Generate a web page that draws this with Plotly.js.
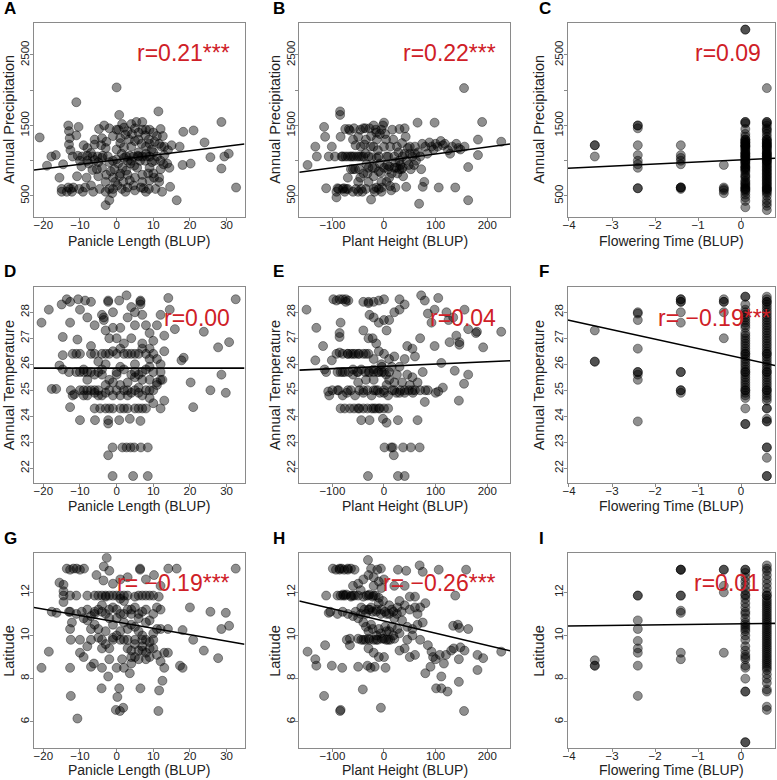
<!DOCTYPE html>
<html><head><meta charset="utf-8">
<script src="https://cdn.plot.ly/plotly-3.0.1.min.js"></script>
<style>html,body{margin:0;padding:0;background:#fff}#chart{width:777px;height:780px}</style>
</head><body><div id="chart"></div>
<script>
// ---------------- DATA ----------------
const panelLetters = ['A','B','C','D','E','F','G','H','I'];
const xTitles = ['Panicle Length (BLUP)', 'Plant Height (BLUP)', 'Flowering Time (BLUP)'];
const yTitles = ['Annual Precipitation', 'Annual Temperature', 'Latitude'];
const rLabels = ['r=0.21***','r=0.22***','r=0.09','r=0.00','r=0.04','r= \u22120.19***','r= \u22120.19***','r= \u22120.26***','r=0.01'];
const fitIntercept = [1013, 998, 1012, 25.85, 25.92, 26.24, 10.63, 10.67, 10.54];
const fitSlope = [6.42, 0.985, 29.5, 0, 0.00088, -0.363, -0.0296, -0.00566, 0.025];

const xTickVals = [[-20,-10,0,10,20,30],[-100,0,100,200],[-4,-3,-2,-1,0]];
const yTickVals = [[500,1000,1500,2000,2500],[22,23,24,25,26,27,28],[6,8,10,12]];
const yTickText = [['500','','1500','','2500'],['22','23','24','25','26','27','28'],['6','8','10','12']];

// Panel A: panicle length vs annual precipitation
const ptsA = [[-21,1330],[-19,930],[-17.8,1060],[-16.6,1080],[-15.6,760],[-14.6,950],[-15,600],[-15,560],[-13.2,620],[-12.2,560],[-11.8,620],[-10.2,600],[-9.2,560],[-8.6,620],[-11,1830],[-13.2,1500],[-13,1420],[-12.8,1320],[-13,1230],[-12.6,1150],[-10.4,1480],[-12,1060],[-10.6,1070],[-9.4,1060],[-8,1070],[-6.6,1060],[-5.2,1060],[-3.8,1070],[-2.4,1060],[-9.6,920],[-8.2,760],[-6,1230],[-4.2,1220],[-4.8,1450],[-3.4,1500],[-2,1460],[-4,1320],[-2.8,1270],[-6.6,870],[-5.4,880],[-4,900],[-2.8,800],[-1.6,850],[-4.6,600],[-3,560],[-2,600],[-1.2,540],[-6.4,560],[-7.6,960],[-10.8,780],[-3,370],[-2,440],
[0,2040],[0.7,1650],[0.5,1440],[1.5,1520],[2.4,1370],[3.4,1300],[1,1250],[0,1160],[1.4,1100],[2.6,1060],[3.6,1070],[4.6,1060],[5.8,1070],[7,1060],[8.2,1060],[0.4,960],[1.6,900],[2.6,860],[0.8,780],[1.8,700],[0.2,650],[1.4,600],[2.4,560],[-0.6,880],[-0.4,700],[3.8,960],[4.8,930],[5.6,900],[6.4,1000],[4,1200],[5,1280],[6,1400],[5.4,1550],[7,1550],[8,1440],[9,1440],[7.8,1360],[8.8,1300],[6.8,1240],[8,1200],[9.6,1160],[10.4,1270],[11.6,1240],[12.2,1200],[11,1060],[12,1000],[12.8,950],[10.4,1000],[9,900],[7.8,1000],[7,800],[8.6,820],[10.2,760],[11.6,760],[6.6,620],[7.4,610],[8.8,600],[10.6,600],[11.6,700],[4.6,650],[3.6,720],[11.4,1700],[12,1450],[12.6,1350],[14,1150],[15,1220],[13.8,960],[14.4,900],[14.6,630],[17.2,1200],[18.2,1410],[18,940],[20.2,960],[16.4,440],[21,1430],[24,1260],[25.6,1050],[28.6,1550],[28.6,890],[29.4,1060],[30.6,1100],[32.6,620],[-8,1180],[-7,1110],[-1,1350],[2,1190],[4.2,1380],[10,1400],[13,1080],[3,1000],[6,1120],[9.6,980],[-1,1000],[-5,980],[12.4,560],[7,1440],[9,1060],[-13.6,560],[-12.6,600],
[-8,1000],[-6,1010],[-4,1040],[-2,980],[0,1020],[2,1040],[4,1000],[6,1060],[8,1100],[10,1120],[-6,1300],[-3,1180],[1,1320],[3,1420],[5,1460],[6,1300],[9,1240],[11,1350],[-5,780],[-3,700],[-1,760],[1,820],[3,800],[5,760],[7,700],[9,720],[-7,650],[-1,600],[3,620],[5,580],[8,560],[10,820],[12,880],[13,1200],[-10,1000],[-9,1220],[-11,1360],[0,1440],[2,1470],[4,1520]];

// Panel B: plant height vs annual precipitation
const ptsB = [[-148,940],[-133,1200],[-130,1060],[-116,1480],[-114,1340],[-112,610],[-107,1060],[-101,1200],[-95,1060],[-92,560],[-90,610],[-85,1700],[-85,1650],[-84,1340],[-82,1060],[-80,600],[-78,610],[-76,560],[-73,600],[-70,1060],[-68,1450],[-66,1430],[-70,760],[-64,880],[-60,1300],[-58,1460],[-55,1220],[-52,1060],[-50,1340],[-48,880],[-46,760],[-44,600],[-42,560],[-40,1460],[-38,1230],[-36,1100],[-34,950],[-32,820],[-30,700],[-28,1460],[-26,1200],[-25,450],[-24,1050],[-22,900],[-20,600],[-18,560],[-16,1440],[-14,1300],[-12,1150],[-10,1060],[-8,960],[-6,830],[-5,700],[-4,620],[-2,1500],[0,1540],[2,1380],[4,1300],[5,1060],[6,940],[8,880],[10,760],[12,640],[14,580],[16,1440],[18,1300],[20,1060],[22,980],[24,900],[26,820],[28,1120],[30,1000],[32,940],[34,880],[36,1060],[37,780],[40,1460],[42,1340],[43,630],[44,1000],[46,1180],[48,940],[50,1100],[52,880],[55,1060],[58,940],[60,1200],[62,1000],[65,1540],[66,1120],[68,390],[70,1060],[72,880],[74,1240],[75,630],[78,700],[80,1200],[84,1100],[88,1260],[92,1200],[96,1160],[98,1540],[100,1240],[104,1200],[106,620],[110,1280],[114,1220],[118,1240],[124,1150],[128,1100],[132,1200],[138,620],[140,1240],[144,1180],[148,1160],[155,2030],[156,1200],[163,440],[163,910],[182,1300],[182,1080],[190,1550],[227,1270],[-92,480],[-60,560],[-54,600],[-46,1440],[-36,1460],[-20,1500],[-14,1040],[12,1200],[-8,1380],[-30,1060],[-65,1060],[-40,1060],[30,1450],[-10,600],[22,620],[-88,600],[-56,880],[-44,1060],[-18,900],[8,1060],[36,900],
[-80,1060],[-75,1060],[-62,1060],[-58,1060],[-48,1060],[-35,1300],[-25,1350],[-15,1400],[-5,1440],[-60,880],[-50,700],[-40,820],[-30,900],[-20,780],[-10,850],[0,900],[10,920],[20,900],[30,880],[40,1100],[50,1200],[60,1100],[-70,600],[-50,560],[-35,600],[-15,620],[-5,560],[5,700],[15,820],[25,1200],[35,1250],[-45,1200],[-20,1200],[0,1200],[-75,1450]];

// Panel C / F / I: flowering time takes a few discrete values
const ftLevels = [-3.4, -2.4, -1.4, -0.4, 0.1, 0.6];
const precipByFt = [
  [1220,1220,1060],
  [1500,1500,1460,1220,1080,1000,950,900,610,610],
  [1220,1080,1040,1000,950,620,620,620,600],
  [940,620,600,580,540],
  [2860,2860,1550,1550,1530,1450,1380,1340,1300,1300,1280,1260,1260,1240,1220,1220,1200,1200,1180,1160,1140,1120,1100,1100,1080,1060,1060,1040,1020,1000,1000,980,960,940,920,900,900,880,860,840,800,780,760,720,700,680,660,640,620,600,600,580,560,520,480,430,340],
  [2030,1550,1550,1530,1500,1460,1440,1420,1380,1340,1300,1300,1280,1260,1240,1240,1220,1200,1200,1180,1160,1140,1120,1100,1100,1080,1060,1060,1040,1020,1000,1000,980,960,940,920,900,880,860,840,820,800,780,760,740,720,700,680,660,640,620,600,600,580,560,540,500,440,400,360,300]
];
const tempByFt = [
  [27.3,26.1,26.1],
  [28.0,27.95,27.7,26.6,25.7,25.7,25.6,25.4,23.8],
  [28.5,28.5,28.4,28.4,28.0,27.6,25.7,25.7,25.0,25.0,24.9],
  [28.5,28.4,28.4,28.0,27.0],
  [28.6,28.6,28.3,28.1,28.0,27.9,27.8,27.7,27.6,27.5,27.4,27.2,27.1,27.0,26.9,26.8,26.7,26.6,26.5,26.4,26.4,26.3,26.2,26.1,26.0,25.9,25.8,25.7,25.7,25.6,25.5,25.4,25.3,25.2,25.1,25.0,25.0,24.9,24.8,24.7,24.3,23.7,23.7],
  [28.6,28.5,28.4,28.4,28.3,28.2,28.1,28.0,27.9,27.8,27.7,27.6,27.5,27.4,27.3,27.2,27.1,27.0,26.9,26.8,26.7,26.6,26.5,26.4,26.4,26.3,26.2,26.1,26.0,25.9,25.8,25.7,25.7,25.6,25.5,25.4,25.3,25.2,25.1,25.0,25.0,24.9,24.8,24.7,24.6,24.3,24.3,23.9,23.8,23.8,22.8,22.8,22.4,21.7,21.7]
];
const latByFt = [
  [8.85,8.6,8.6],
  [11.85,11.85,10.7,10.3,9.75,9.4,9.2,8.6,7.2],
  [13.05,13.05,13.05,11.85,11.85,11.15,11.05,9.2,8.9],
  [13.05,13.05,12.3,12.0,9.2],
  [13.05,13.05,12.9,12.7,12.5,12.3,12.1,11.9,11.85,11.7,11.5,11.3,11.1,11.0,10.8,10.6,10.5,10.4,10.3,10.2,10.0,9.8,9.5,9.3,9.1,9.0,8.9,8.6,8.5,8.0,7.4,7.4,5.05,5.05],
  [13.25,13.1,13.0,12.8,12.6,12.4,12.2,12.0,11.85,11.85,11.7,11.6,11.5,11.4,11.3,11.2,11.1,11.0,10.9,10.8,10.7,10.6,10.5,10.4,10.3,10.2,10.1,10.0,9.9,9.8,9.7,9.6,9.5,9.4,9.3,9.2,9.1,9.0,8.9,8.8,8.7,8.6,8.5,8.4,8.2,8.0,7.8,7.5,7.4,6.7,6.55]
];

// Panel D: panicle length vs annual temperature
const ptsD = [[-20.5,27.6],[-18.5,28.1],[-17.7,25.05],[-16.5,25.05],[-15.6,25.95],[-14.7,25.8],[-14.7,26.35],[-14.7,27.05],[-15,28.3],[-13.6,28.5],[-12.7,28.4],[-10.5,28.5],[-8.6,28.45],[-12.7,27.6],[-12.7,24.35],[-10.7,26.95],[-10,28.1],[-10,23.85],[-5.9,23.85],[-13,25.7],[-12,26.4],[-11,25.7],[-10,26.4],[-9,25.8],[-8,25.7],[-7,26.7],[-6,26.4],[-5,26.1],[-4,25.8],[-3,26.4],[-2,26.4],[-1,26.5],[0,26.4],[1,26.6],[2,26.8],[3,26.4],[-12.5,25.0],[-11.5,24.85],[-10,25.0],[-9,24.8],[-8,25.0],[-7,25.0],[-6,24.9],[-5,25.0],[-4,24.8],[-3,24.9],[-2,25.0],[-1,25.3],[0,25.0],[1,24.8],[2,25.0],[3,25.0],[4,24.9],[5,25.0],[6,25.1],[7,24.8],[8,25.0],[9,24.7],[10,25.0],[11,25.3],[12,25.4],[-8,25.4],[-6,25.6],[-4,25.6],[-2,25.4],[0,25.6],[2,25.8],[4,25.6],[6,25.6],[8,25.8],[10,25.7],[12,25.7],[-6,24.3],[-4.5,24.3],[-3,24.3],[-1,24.3],[1,24.3],[3,24.3],[5,24.3],[7,24.3],[8,24.3],[10,24.5],[12,24.3],[-2.3,23.85],[-2.3,23.72],[0.7,23.85],[3.6,23.9],[6.5,23.82],[-1.1,22.8],[1.6,22.8],[2.7,22.8],[3.8,22.8],[4.8,22.8],[6.6,22.8],[8.5,22.8],[-2.3,22.5],[-1.1,21.7],[4.5,21.7],[8.5,21.7],[14.1,28.55],[14.5,28.1],[15.9,27.35],[17.7,26.15],[18.3,26.25],[20.2,25.3],[20.9,24.35],[23.8,27.25],[25.6,25.0],[27.7,26.65],[28.6,25.6],[29.8,24.9],[30.7,26.85],[32.5,28.5],[2.7,28.65],[0.7,28.45],[-2.3,28.45],[6.5,28.45],[6.5,28.3],[4,28.2],[5,28.0],[7,27.9],[8,27.5],[9,27.2],[10,26.9],[11,27.5],[12,27.9],[13,27.1],[-4,27.9],[-3.5,27.7],[-3,27.3],[-2,27.0],[0,27.0],[1,27.4],[-1,28.0],[5,27.5],[7,26.8],[9,26.6],[11,26.2],[13,26.5],[12,26.0],[9,26.2],[7,26.6],[5,26.4],[-9,25.7],[-7,25.7],[3,25.3],[5,25.5],[7,25.4],[9,25.4],[11,25.2],[13,24.6],[12.5,25.4],[-8,24.8],[-3,25.2],[1,25.2],[-2.3,28.4],[-3.5,27.8],[6.5,28.4],[-6,25.0],[2,26.4],[7,25.7],[-11,26.4],
[-10,25.7],[-5,25.7],[0,25.7],[5,25.7],[-7,26.4],[-4,26.4],[4,26.4],[6,26.4],[8,26.4],[10,26.4],[-12,24.8],[-9,25.0],[-5,24.8],[-1,24.8],[3,24.8],[6,24.9],[9,25.0],[-2,24.3],[2,24.3],[6,24.3],[-3,26.0],[1,25.9],[5,26.0],[9,25.9],[-6,27.5],[-8,27.8],[3,27.8],[-1,27.4],[4,27.0],[-7,28.4]];

// Panel E: plant height vs annual temperature
const ptsE = [[-150,28.1],[-131,27.4],[-133,26.15],[-118,26.7],[-115,25.8],[-112,25.7],[-108,24.95],[-106,24.8],[-101,26.15],[-98,28.5],[-92,28.45],[-86,28.5],[-80,28.5],[-74,28.5],[-69,28.45],[-86,27.2],[-86,27.05],[-84,27.6],[-92,26.4],[-86,26.45],[-80,26.4],[-70,26.4],[-64,26.4],[-56,26.4],[-48,26.4],[-40,26.4],[-30,26.4],[-90,25.7],[-84,25.7],[-76,25.7],[-68,25.7],[-60,25.6],[-52,25.7],[-44,25.8],[-36,25.7],[-28,25.7],[-20,25.8],[-12,25.7],[-4,25.7],[4,25.6],[-88,25.0],[-80,24.8],[-72,24.9],[-64,25.0],[-56,24.8],[-48,25.0],[-40,24.9],[-32,25.0],[-24,24.8],[-16,25.0],[-8,24.9],[0,25.0],[8,24.8],[16,25.0],[24,24.9],[32,25.0],[40,24.9],[48,25.0],[56,24.9],[60,25.0],[-66,24.3],[-58,24.3],[-48,24.3],[-40,24.3],[-32,24.3],[-24,24.3],[-16,24.3],[-8,24.3],[0,24.3],[8,24.3],[-44,23.85],[-28,23.85],[-2,23.9],[5,23.75],[27,23.85],[65,23.85],[1,22.8],[14,22.8],[17,22.8],[37,22.8],[52,22.8],[69,22.8],[19,22.5],[-31,21.7],[27,21.7],[40,21.7],[72,28.65],[79,28.45],[105,28.55],[85,27.95],[92,27.6],[98,28.1],[121,28.0],[125,27.7],[134,27.8],[156,28.1],[163,27.35],[140,27.1],[180,27.25],[178,27.2],[227,27.25],[192,26.65],[146,26.85],[146,26.75],[127,26.85],[111,26.05],[98,26.7],[137,25.75],[163,25.6],[155,25.25],[145,24.6],[114,25.1],[105,24.95],[79,24.55],[85,25.0],[-40,28.4],[-30,28.4],[-20,28.4],[-10,28.45],[0,28.5],[30,28.5],[40,28.3],[-28,27.9],[-20,27.8],[-10,27.6],[0,27.7],[10,27.7],[20,28.0],[30,28.1],[-40,27.3],[-30,27.0],[-22,27.0],[-15,26.8],[5,27.3],[45,26.7],[55,26.6],[70,27.0],[60,26.3],[40,26.2],[20,26.3],[-10,26.5],[0,26.4],[10,26.2],[30,25.9],[45,25.6],[55,25.5],[65,25.3],[75,25.7],[35,25.3],[20,25.3],[10,25.4],[-35,25.4],[-50,25.3],[70,25.0],[80,25.0],[100,24.9],[-74,28.4],[-30,28.35],[-84,24.3],[-76,24.3],[-20,25.7],[-12,25.0],[-4,25.9],[-60,26.4],
[-80,25.7],[-50,25.7],[-30,25.7],[-10,25.7],[0,25.7],[10,25.7],[-70,25.0],[-40,25.0],[-20,25.0],[0,24.9],[20,25.0],[40,25.0],[-50,24.3],[-20,24.3],[-10,24.3],[-70,26.4],[-50,26.4],[-35,26.4],[-20,26.2],[-5,26.0],[15,25.9],[25,25.6],[50,25.2],[30,24.9],[-90,25.0],[-100,25.0],[-60,25.8],[-20,25.4],[5,25.2],[55,25.0]];

// Panel G: panicle length vs latitude
const ptsG = [[-20.5,8.5],[-18.5,9.25],[-17.7,11.1],[-16.4,11.05],[-15.6,12.45],[-14.5,12.35],[-14.5,12.05],[-14.5,11.85],[-14.5,11.55],[-13.6,13.1],[-12.7,13.05],[-11.8,13.1],[-10.9,13.1],[-10,13.05],[-8.9,13.1],[-12.7,11.85],[-12.7,11.1],[-12.2,10.6],[-12.7,10.3],[-12.5,9.8],[-12.7,8.5],[-12.5,7.2],[-10.7,6.15],[-10,9.8],[-10,9.2],[-9,9.0],[-7,8.55],[-6.2,8.7],[-11,11.85],[-9.5,11.1],[-8,11.2],[-7,10.9],[-6,11.1],[-5,11.2],[-4,11.4],[-3,11.8],[-2,11.85],[-1,11.85],[0,11.85],[1,11.7],[2,11.6],[-8,11.85],[-6,11.85],[-4,11.85],[-8,10.7],[-6,10.5],[-5,10.3],[-4,9.8],[-3,9.6],[-2,9.4],[-1,9.8],[0,10.0],[1,9.8],[2,9.8],[3,9.4],[4,9.3],[5,9.0],[6,8.9],[7,9.3],[8,9.2],[9,9.0],[10,9.4],[11,9.1],[12,8.8],[13,8.5],[-4,9.4],[-2,8.9],[0,8.5],[1.5,8.9],[2,8.5],[4,8.7],[-4,8.5],[-4.1,7.55],[-2.3,8.1],[0.2,7.15],[0.9,6.5],[1.8,6.65],[-0.2,6.55],[0.7,7.55],[3.6,8.25],[6.5,7.55],[11.4,6.5],[11.6,7.45],[12.5,7.9],[3,10.3],[4,10.5],[5,10.4],[6,10.2],[7,10.0],[8,9.8],[9,9.7],[10,10.1],[11,10.3],[12,10.3],[3,11.2],[4,11.0],[5,11.3],[6,11.0],[7,11.1],[8,11.2],[9,10.7],[10,11.0],[11,11.3],[12,11.2],[5,11.8],[7,11.85],[9,11.85],[11.5,11.8],[-2.7,13.6],[-3.5,13.2],[-2,13.0],[-5.5,12.8],[-3.6,12.55],[-1,12.4],[1,12.6],[3,12.7],[6.4,13.1],[6.4,13.05],[8,12.6],[10.2,12.8],[12,12.3],[14.1,13.1],[16.4,13.1],[14,10.3],[13,9.2],[14,9.2],[20,11.3],[18,10.25],[20.9,9.8],[17.3,8.6],[18,8.5],[23.8,9.3],[25.6,11.1],[27.7,8.95],[28.6,10.3],[29.8,11.05],[30.7,10.45],[32.5,13.1],[-7,9.8],[-8,9.5],[2,10.6],[-1,10.5],[-2,10.8],[-3,11.0],[1,11.0],[0,11.2],[7,9.8],[5,9.8],[-1,11.3],[8,11.85],[2,11.85],
[-5,11.85],[-3,11.85],[1,11.85],[3,11.85],[6,11.85],[10,11.85],[-6,11.0],[-4,11.1],[-2,11.2],[0,10.8],[2,11.0],[4,11.2],[6,10.8],[8,10.6],[-3,10.2],[-1,9.9],[1,10.2],[3,9.8],[5,9.6],[7,9.5],[9,9.4],[-5,9.9],[-7,10.3],[-9,10.8],[-11,11.0],[-13,11.1],[4,9.0],[6,9.3],[8,8.9],[10,9.8]];

// Panel H: plant height vs latitude
const ptsH = [[-148,9.25],[-133,8.9],[-131,8.6],[-116,7.2],[-114,9.55],[-112,11.85],[-107,11.05],[-104,11.1],[-101,8.6],[-99,13.1],[-93,13.05],[-86,13.1],[-82,13.1],[-77,13.05],[-70,13.1],[-64,13.1],[-57,13.05],[-84,6.55],[-85,6.5],[-81,8.5],[-84,11.85],[-79,11.85],[-73,11.9],[-64,11.85],[-57,11.85],[-90,11.0],[-80,11.1],[-70,11.0],[-60,10.9],[-66,9.85],[-66,9.55],[-72,9.8],[-50,8.55],[-41,7.5],[-31,13.5],[-25,13.1],[-13,13.05],[-6,13.1],[-6,6.65],[3,8.5],[27,13.05],[43,13.0],[69,13.25],[75,12.95],[106,13.05],[159,13.05],[138,11.85],[134,10.45],[143,10.5],[146,10.35],[163,10.3],[85,9.55],[92,9.25],[108,9.1],[116,8.7],[80,8.25],[90,8.55],[101,7.55],[111,7.55],[123,7.4],[111,8.1],[145,7.85],[155,6.5],[135,9.4],[148,9.45],[156,9.3],[181,9.1],[181,8.4],[192,8.95],[227,9.25],[-50,11.85],[-40,11.8],[-34,11.85],[-28,11.9],[-22,11.8],[-16,11.85],[-10,11.75],[-44,11.3],[-38,11.2],[-30,11.2],[-22,11.1],[-14,11.2],[-6,11.0],[2,11.1],[10,11.0],[18,11.1],[26,11.3],[34,11.1],[-50,10.8],[-40,10.6],[-30,10.2],[-22,10.3],[-14,10.0],[-6,10.1],[2,10.4],[10,10.2],[18,10.0],[26,10.3],[-44,9.8],[-36,9.8],[-28,9.8],[-20,9.8],[-12,9.8],[-4,9.85],[4,9.8],[12,9.8],[20,9.85],[-30,9.4],[-20,9.2],[-10,9.0],[0,9.0],[-26,8.5],[-18,8.55],[-32,8.6],[-50,12.4],[-40,12.6],[-30,12.8],[-20,12.3],[-10,12.5],[0,12.6],[20,12.3],[30,11.6],[40,11.4],[50,11.2],[60,11.8],[65,11.0],[70,11.3],[80,11.5],[45,10.4],[55,10.3],[65,10.5],[75,10.6],[45,9.8],[55,10.0],[70,9.8],[30,9.3],[40,9.4],[50,9.0],[60,9.1],[95,9.0],[100,8.9],[120,9.1],[130,9.3],[145,8.9],[-10,11.5],[-2,11.6],[10,11.4],[20,10.8],[35,10.7],[-86,13.05],[-70,13.05],[-79,11.9],[-64,11.8],[-30,11.85],[-20,11.85],[-40,9.8],[-28,11.2],
[-90,11.85],[-75,11.85],[-60,11.85],[-55,11.1],[-45,11.0],[-35,11.0],[-25,11.3],[-15,11.1],[-5,11.2],[5,11.0],[15,11.2],[25,11.0],[-50,9.85],[-30,9.85],[-15,9.8],[0,9.85],[8,9.8],[-35,10.4],[-25,10.5],[-10,10.3],[5,10.2],[15,10.4],[-60,12.3],[-45,12.1],[-20,12.7],[-5,12.2],[40,12.3],[50,11.8],[60,11.3],[30,10.1]];

// ---------------- LAYOUT CONSTANTS ----------------
const W = 777, H = 780;
const colPx = [[34, 244.5], [299.3, 510], [567.7, 775]];
const rowPx = [[22.7, 217], [287.3, 483.3], [553.3, 748.3]];
const xRanges = [[-22.55, 34.9], [-164, 244], [-4.03, 0.79]];
const yRanges = [[202, 2958], [21.42, 28.96], [4.77, 13.81]];
const FONT = 'Liberation Sans, Arial, Helvetica, sans-serif';
const px = v => v / W;
const py = v => 1 - v / H;

function flatten(levels, byLevel) {
  const xs = [], ys = [];
  byLevel.forEach((arr, i) => arr.forEach(v => { xs.push(levels[i]); ys.push(v); }));
  return [xs, ys];
}
const pairs = p => [p.map(d => d[0]), p.map(d => d[1])];

const panelData = [
  pairs(ptsA), pairs(ptsB), flatten(ftLevels, precipByFt),
  pairs(ptsD), pairs(ptsE), flatten(ftLevels, tempByFt),
  pairs(ptsG), pairs(ptsH), flatten(ftLevels, latByFt)
];

const traces = [];
const layout = {
  width: W, height: H, autosize: false,
  margin: {l: 0, r: 0, t: 0, b: 0},
  paper_bgcolor: '#fff', plot_bgcolor: '#fff',
  showlegend: false,
  font: {family: FONT, color: '#222'},
  annotations: []
};

const rXRight = [232, 498, 763, 232, 498, 773, 232, 498, 762];
const rYRow = [53, 318, 583];
const letterX = [2, 271, 537];
const letterY = [8.5, 271, 538];
const yTitleX = [9, 275, 539];
const xTitleY = [241, 506, 770];

for (let i = 0; i < 9; i++) {
  const row = Math.floor(i / 3), col = i % 3;
  const sfx = i === 0 ? '' : String(i + 1);
  const xa = 'x' + sfx, ya = 'y' + sfx;
  const [xs, ys] = panelData[i];
  traces.push({
    type: 'scatter', mode: 'markers', x: xs, y: ys, xaxis: xa, yaxis: ya,
    marker: {size: 9, color: 'rgba(0,0,0,0.44)', line: {color: 'rgba(0,0,0,0.55)', width: 0.7}},
    hoverinfo: 'skip', cliponaxis: true
  });
  const xr = xRanges[col];
  traces.push({
    type: 'scatter', mode: 'lines', x: xr,
    y: xr.map(v => fitIntercept[i] + fitSlope[i] * v),
    xaxis: xa, yaxis: ya, line: {color: '#000', width: 1.6}, hoverinfo: 'skip'
  });
  const axCommon = {
    showline: true, linecolor: '#8a8a8a', linewidth: 1, mirror: true,
    ticks: 'outside', ticklen: 3, tickcolor: '#8a8a8a', tickwidth: 1,
    showgrid: false, zeroline: false, fixedrange: true,
    tickfont: {family: FONT, size: 11.5, color: '#222'}
  };
  layout['xaxis' + sfx] = Object.assign({}, axCommon, {
    domain: [px(colPx[col][0]), px(colPx[col][1])], range: xr, anchor: ya,
    tickmode: 'array', tickvals: xTickVals[col], ticklabelstandoff: -6
  });
  layout['yaxis' + sfx] = Object.assign({}, axCommon, {
    domain: [py(rowPx[row][1]), py(rowPx[row][0])], range: yRanges[row], anchor: xa,
    tickmode: 'array', tickvals: yTickVals[row], ticktext: yTickText[row], tickangle: -90,
    ticklabelstandoff: -4
  });
  const cx = (colPx[col][0] + colPx[col][1]) / 2;
  const cy = (rowPx[row][0] + rowPx[row][1]) / 2;
  layout.annotations.push(
    {xref: 'paper', yref: 'paper', x: px(letterX[col]), y: py(letterY[row]), xanchor: 'left', yanchor: 'middle',
     text: '<b>' + panelLetters[i] + '</b>', showarrow: false, font: {family: FONT, size: 17, color: '#000'}},
    {xref: 'paper', yref: 'paper', x: px(cx), y: py(xTitleY[row]), xanchor: 'center', yanchor: 'middle',
     text: xTitles[col], showarrow: false, font: {family: FONT, size: 14, color: '#222'}},
    {xref: 'paper', yref: 'paper', x: px(yTitleX[col]), y: py(cy), xanchor: 'center', yanchor: 'middle',
     text: yTitles[row], textangle: -90, showarrow: false, font: {family: FONT, size: 14.5, color: '#222'}},
    {xref: 'paper', yref: 'paper', x: px(rXRight[i]), y: py(rYRow[row]), xanchor: 'right', yanchor: 'middle',
     text: rLabels[i], showarrow: false, font: {family: FONT, size: 23, color: '#cf2027'}}
  );
}

Plotly.newPlot('chart', traces, layout, {staticPlot: true, displayModeBar: false});
</script></body></html>
